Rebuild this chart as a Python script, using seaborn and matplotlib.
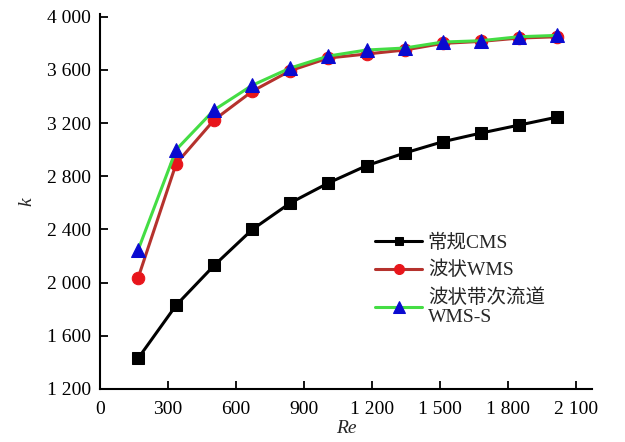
import matplotlib
matplotlib.use("Agg")
import matplotlib.pyplot as plt
import seaborn as sns
import pandas as pd
from matplotlib.ticker import FuncFormatter

# Re 与 k 的数据
re_vals = [168, 336, 504, 672, 840, 1008, 1176, 1344, 1512, 1680, 1848, 2016]
k_cms = [1430, 1830, 2130, 2400, 2600, 2750, 2880, 2975, 3060, 3125, 3185, 3245]
k_wms = [2035, 2895, 3225, 3440, 3595, 3690, 3720, 3750, 3800, 3815, 3840, 3850]
k_wmss = [2245, 3000, 3300, 3485, 3615, 3705, 3750, 3765, 3810, 3820, 3850, 3860]

labels = ["常规CMS", "波状WMS", "波状带次流道\nWMS-S"]

sns.set_style("white")
plt.rcParams["font.family"] = ["Liberation Serif", "Noto Sans CJK SC"]

fig = plt.figure(figsize=(6.25, 4.42), dpi=100)
ax = fig.add_axes([0.16, 0.12, 0.787, 0.848])

series = [
    (k_cms, labels[0], "black", "black", "s", 8),
    (k_wms, labels[1], "#b5322d", "#e8151b", "o", 9),
    (k_wmss, labels[2], "#44dd44", "#0a0ad0", "^", 10),
]
for vals, lab, lc, mc, mk, ms in series:
    df = pd.DataFrame({"Re": re_vals, "k": vals})
    sns.lineplot(data=df, x="Re", y="k", ax=ax, color=lc, linewidth=2.2,
                 marker=mk, markersize=ms, markerfacecolor=mc,
                 markeredgecolor=mc, label=lab)

ax.set_xlim(0, 2170)
ax.set_ylim(1200, 4020)
ax.set_xticks(range(0, 2101, 300))
ax.set_yticks(range(1200, 4001, 400))
fmt = FuncFormatter(lambda v, p: f"{int(v):,}".replace(",", " "))
ax.xaxis.set_major_formatter(fmt)
ax.yaxis.set_major_formatter(fmt)

for s in ["top", "right"]:
    ax.spines[s].set_visible(False)
for s in ["left", "bottom"]:
    ax.spines[s].set_color("black")
    ax.spines[s].set_linewidth(1.5)
ax.tick_params(direction="in", length=6, width=1.3, labelsize=14,
               colors="black", left=True, bottom=True)
ax.tick_params(axis="y", pad=6.5)
ax.tick_params(axis="x", pad=9)

ax.set_xlabel("Re", fontsize=14, style="italic", labelpad=1)
ax.set_ylabel("k", fontsize=14, style="italic", labelpad=8)

leg = ax.legend(loc="upper left", bbox_to_anchor=(0.54, 0.44), frameon=False,
                fontsize=14, handlelength=2.4, handletextpad=0.3,
                labelspacing=0.45, borderpad=0, markerscale=0.8)

fig.savefig("out.png", dpi=100)
